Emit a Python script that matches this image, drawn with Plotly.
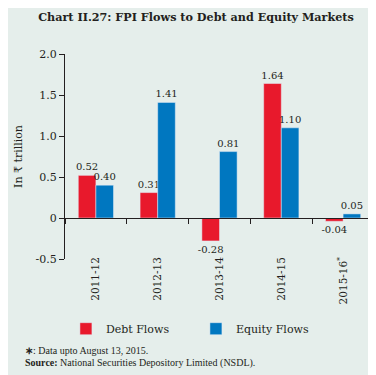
import plotly.graph_objects as go

categories = ["2011-12", "2012-13", "2013-14", "2014-15", "2015-16<sup>*</sup>"]
debt_flows = [0.52, 0.31, -0.28, 1.64, -0.04]
equity_flows = [0.40, 1.41, 0.81, 1.10, 0.05]
y_tickvals = [-0.5, 0, 0.5, 1.0, 1.5, 2.0]
y_ticktext = ["-0.5", "0", "0.5", "1.0", "1.5", "2.0"]

BG = "#e5eeeb"
TXT = "#231f20"
FONT = "DejaVu Serif"

fig = go.Figure()
fig.add_trace(go.Bar(
    x=categories, y=debt_flows, name="Debt Flows", marker_color="#e8192c",
    text=[f"{v:.2f}" for v in debt_flows], textposition="outside",
    constraintext="none",
    textfont=dict(size=10, color=TXT, family=FONT), cliponaxis=False,
))
fig.add_trace(go.Bar(
    x=categories, y=equity_flows, name="Equity Flows", marker_color="#0077c0",
    text=[f"{v:.2f}" for v in equity_flows], textposition="outside",
    constraintext="none",
    textfont=dict(size=10, color=TXT, family=FONT), cliponaxis=False,
))
# invisible trace to carry the zero-line axis with boundary ticks
fig.add_trace(go.Scatter(x=[-0.5, len(categories) - 0.5], y=[0, 0], xaxis="x2",
                         mode="lines", line=dict(width=0), showlegend=False,
                         hoverinfo="skip"))

fig.update_layout(
    width=376, height=375,
    paper_bgcolor=BG, plot_bgcolor=BG,
    margin=dict(l=51, r=10, t=46, b=124),
    font=dict(family=FONT, color=TXT, size=11),
    barmode="group", bargap=0.43, bargroupgap=0,
    uniformtext=dict(mode=False),
    title=dict(text="<b>Chart II.27: FPI Flows to Debt and Equity Markets</b>",
               x=0.5, xanchor="center", y=0.975, yanchor="middle",
               font=dict(size=11.2, family=FONT, color=TXT)),
    xaxis=dict(type="category", showline=False, ticks="", tickangle=-90,
               ticklabelstandoff=-5,
               tickfont=dict(size=10.5, color=TXT), showgrid=False, zeroline=False),
    xaxis2=dict(overlaying="x", anchor="free", position=0.2, type="linear",
                range=[-0.5, len(categories) - 0.5],
                tickvals=[i - 0.5 for i in range(len(categories) + 1)],
                showticklabels=False, ticks="outside", ticklen=5, tickcolor=TXT,
                showline=True, linecolor=TXT, linewidth=1, showgrid=False, zeroline=False),
    yaxis=dict(range=[-0.5, 2.0], tickvals=y_tickvals, ticktext=y_ticktext,
               showline=True, linecolor=TXT, linewidth=1, ticks="outside",
               ticklen=5, tickcolor=TXT, showgrid=False, zeroline=False,
               tickfont=dict(size=11, color=TXT),
               title=dict(text="In ₹ trillion", font=dict(size=11, color=TXT), standoff=10)),
    legend=dict(orientation="h", x=0.003, xanchor="left", y=-0.34, yanchor="middle",
                font=dict(size=11, color=TXT), bgcolor="rgba(0,0,0,0)",
                entrywidth=85, entrywidthmode="pixels", itemwidth=30),
    showlegend=True,
)
fig.add_annotation(xref="paper", yref="paper", x=-0.137, y=-0.445, xanchor="left",
                   yanchor="middle", showarrow=False, align="left",
                   text="<b>∗</b>: Data upto August 13, 2015.",
                   font=dict(size=10, color=TXT, family="Liberation Serif"))
fig.add_annotation(xref="paper", yref="paper", x=-0.137, y=-0.507, xanchor="left",
                   yanchor="middle", showarrow=False, align="left",
                   text="<b>Source:</b> National Securities Depository Limited (NSDL).",
                   font=dict(size=10, color=TXT, family="Liberation Serif"))

fig.write_html("out.html")
